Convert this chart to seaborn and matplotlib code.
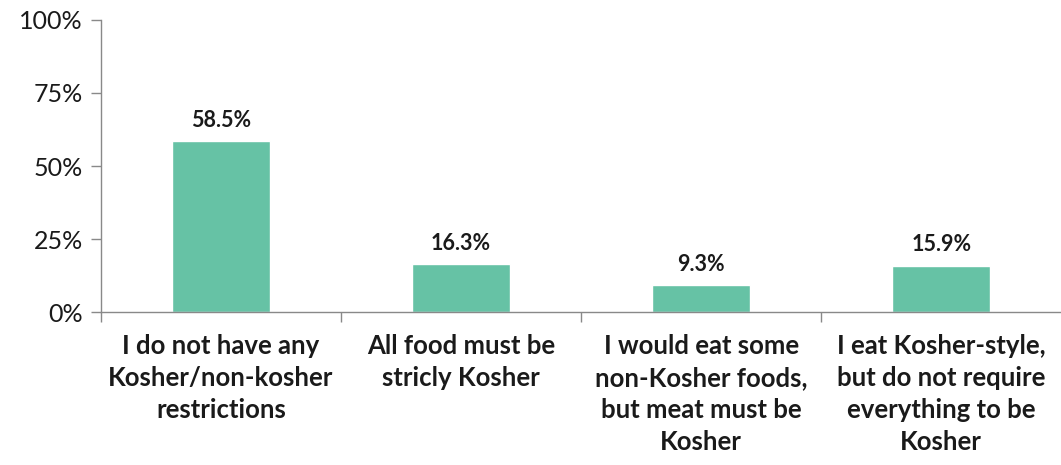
import matplotlib
matplotlib.use("Agg")
import matplotlib.pyplot as plt
import pandas as pd
import seaborn as sns
from matplotlib.ticker import FixedLocator

# Data
categories = [
    "I do not have any\nKosher/non-kosher\nrestrictions",
    "All food must be\nstricly Kosher",
    "I would eat some\nnon-Kosher foods,\nbut meat must be\nKosher",
    "I eat Kosher-style,\nbut do not require\neverything to be\nKosher",
]
shares = [58.5, 16.3, 9.3, 15.9]
y_ticks = [0, 25, 50, 75, 100]

df = pd.DataFrame({"category": categories, "share": shares})

sns.set_theme(style="white")
plt.rcParams["font.family"] = ["Lato", "DejaVu Sans"]

fig = plt.figure(figsize=(10.61, 4.65), dpi=100)
ax = fig.add_axes([0.0952, 0.329, 0.905, 0.628])

sns.barplot(data=df, x="category", y="share", color="#66C2A5", width=0.41,
            saturation=1, ax=ax)

# value labels above the bars
for i, v in enumerate(shares):
    ax.text(i, v + 3.5, f"{v}%", ha="center", va="bottom",
            fontsize=15.5, fontweight="bold", color="#1a1a1a")

ax.set_xlim(-0.5, 3.5)
ax.set_ylim(0, 100)
ax.set_yticks(y_ticks)
ax.set_yticklabels([f"{t}%" for t in y_ticks], fontsize=18, color="#1a1a1a")
ax.set_xticks(range(len(categories)))
ax.set_xticklabels(categories, fontsize=18.5, fontweight="bold", color="#1a1a1a",
                   linespacing=1.4)
ax.xaxis.set_minor_locator(FixedLocator([-0.5, 0.5, 1.5, 2.5]))
ax.tick_params(axis="x", which="major", length=0, pad=16)
ax.tick_params(axis="x", which="minor", length=7, width=1, color="#898989",
               direction="out", bottom=True)
ax.tick_params(axis="y", length=7, width=1, color="#898989", direction="out",
               left=True, pad=6)
ax.set_xlabel("")
ax.set_ylabel("")

sns.despine(ax=ax, top=True, right=True)
for s in ["left", "bottom"]:
    ax.spines[s].set_color("#898989")
    ax.spines[s].set_linewidth(1)

fig.savefig("out.png", dpi=100)
